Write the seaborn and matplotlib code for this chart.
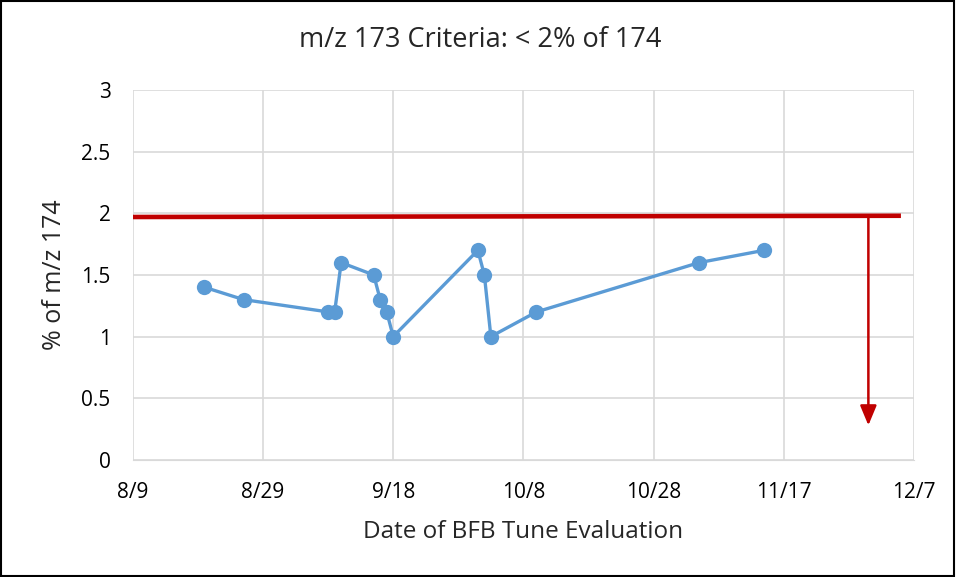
import pandas as pd
import seaborn as sns
import matplotlib.pyplot as plt
import matplotlib.dates as mdates
from matplotlib.patches import Rectangle

# Tune evaluation dates and m/z 173 as % of m/z 174
dates = ["8/20", "8/26", "9/8", "9/9", "9/10", "9/15", "9/16", "9/17", "9/18",
         "10/1", "10/2", "10/3", "10/10", "11/4", "11/14"]
pct_173 = [1.4, 1.3, 1.2, 1.2, 1.6, 1.5, 1.3, 1.2, 1.0,
           1.7, 1.5, 1.0, 1.2, 1.6, 1.7]

# criteria line and arrow
limit_dates = ["8/9", "12/5"]
limit_vals = [1.97, 1.98]
arrow_date = "11/30"
arrow_top = 1.98
arrow_bottom = 0.28

tick_labels = ["8/9", "8/29", "9/18", "10/8", "10/28", "11/17", "12/7"]
YEAR = "2017"


def to_date(s):
    return pd.to_datetime(f"{YEAR}/{s}", format="%Y/%m/%d")


def main():
    df = pd.DataFrame({"Date": [to_date(d) for d in dates], "Pct": pct_173})

    sns.set_style("white")
    plt.rcParams["font.family"] = ["Open Sans", "DejaVu Sans"]

    fig = plt.figure(figsize=(9.56, 5.77), dpi=100)
    ax = fig.add_axes([0.139, 0.203, 0.817, 0.641])

    sns.lineplot(data=df, x="Date", y="Pct", marker="o", color="#5B9BD5",
                 linewidth=2.4, markersize=11, markeredgewidth=0, sort=False, ax=ax)

    ax.plot([to_date(d) for d in limit_dates], limit_vals, color="#C00000",
            linewidth=3.3, solid_capstyle="butt", zorder=4)
    ad = mdates.date2num(to_date(arrow_date))
    ax.annotate("", xy=(ad, arrow_bottom), xytext=(ad, arrow_top),
                arrowprops=dict(arrowstyle="-|>,head_length=0.6,head_width=0.25",
                                color="#C00000", lw=1.8,
                                mutation_scale=20, shrinkA=0, shrinkB=0),
                zorder=4)

    ticks = [to_date(t) for t in tick_labels]
    ax.set_xlim(ticks[0], ticks[-1])
    ax.set_xticks(ticks)
    ax.set_xticklabels(tick_labels)
    ax.set_ylim(0, 3)
    ax.set_yticks([0, 0.5, 1, 1.5, 2, 2.5, 3])
    ax.set_yticklabels(["0", "0.5", "1", "1.5", "2", "2.5", "3"])

    ax.grid(True, color="#D9D9D9", linewidth=1.2)
    ax.set_axisbelow(True)
    for side in ["top", "left", "right"]:
        ax.spines[side].set_visible(False)
    ax.spines["bottom"].set_color("#D9D9D9")
    ax.tick_params(axis="both", length=0, labelsize=15, colors="black")
    ax.tick_params(axis="x", pad=16)
    ax.tick_params(axis="y", pad=16)

    # title is centred on the whole chart, not the plot area
    fig.suptitle("m/z 173 Criteria: < 2% of 174", fontsize=19.5, x=0.502, y=0.931, va="center")
    ax.set_xlabel("Date of BFB Tune Evaluation", fontsize=17.5, labelpad=12)
    ax.set_ylabel("% of m/z 174", fontsize=18, labelpad=10)

    fig.patches.append(Rectangle((0.001, 0.001), 0.997, 0.997, transform=fig.transFigure,
                                 fill=False, edgecolor="black", linewidth=1.5))

    fig.savefig("out.png", dpi=100)


if __name__ == "__main__":
    main()
